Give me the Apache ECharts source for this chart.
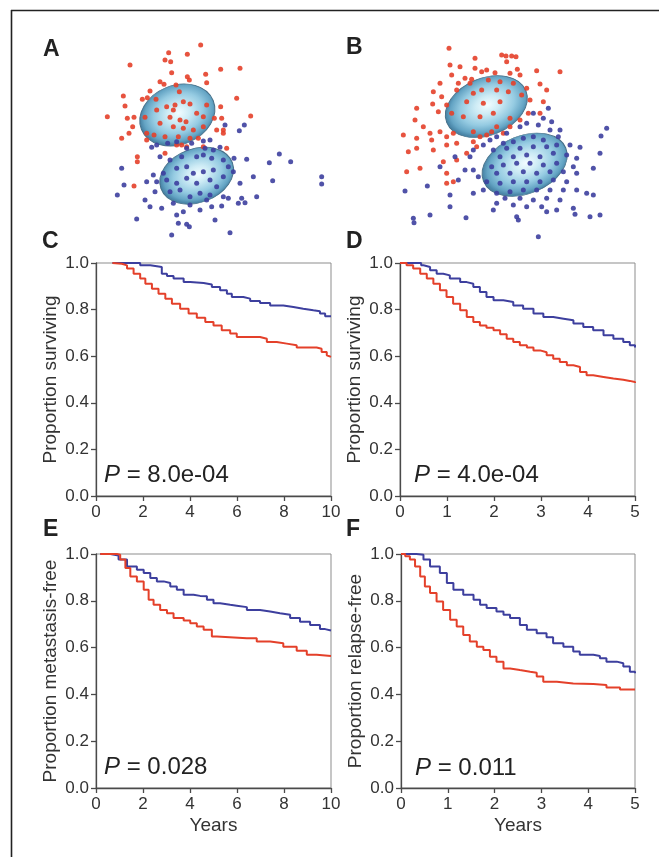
<!DOCTYPE html>
<html>
<head>
<meta charset="utf-8">
<script src="https://cdn.jsdelivr.net/npm/echarts@6/dist/echarts.min.js"></script>
<style>
html,body{margin:0;padding:0;background:#fff;}
#chart{width:659px;height:857px;}
</style>
</head>
<body>
<div id="chart"></div>
<script>
// ---------- Panel A & B: sample projections (arbitrary score units, y downward) ----------
const scatterA_red = [[512,45],[416,68],[472,73],[405,90],[422,95],[300,105],[572,118],[630,115],[425,128],[472,140],[527,133],[390,155],[402,163],[478,150],[530,158],[438,165],[360,183],[448,185],[280,198],[337,208],[352,203],[620,205],[285,228],[378,208],[410,230],[435,225],[460,215],[480,222],[530,225],[572,230],[232,260],[292,265],[312,262],[420,262],[450,270],[468,275],[520,260],[553,265],[575,265],[662,258],[345,262],[308,290],[390,280],[430,290],[460,295],[490,300],[520,290],[560,300],[580,300],[275,325],[297,310],[350,310],[372,315],[405,320],[445,320],[480,325],[505,325],[350,330],[580,310],[440,345],[470,350],[520,350],[590,355],[322,380],[322,395],[405,370],[312,468],[455,345],[430,240],[500,250],[380,240]];
const scatterA_blue = [[585,285],[643,285],[628,302],[540,330],[520,333],[485,340],[440,335],[413,340],[380,345],[365,352],[470,355],[525,355],[550,360],[570,352],[612,385],[650,388],[748,372],[782,395],[718,398],[275,415],[390,380],[420,390],[455,380],[500,380],[520,375],[545,385],[580,390],[595,410],[610,425],[370,435],[400,430],[440,415],[470,410],[490,430],[520,425],[550,420],[580,440],[670,440],[875,440],[875,462],[282,465],[350,455],[380,455],[410,450],[440,460],[470,445],[500,460],[540,450],[560,470],[630,460],[728,452],[262,495],[345,510],[375,485],[420,485],[450,480],[480,500],[510,490],[540,495],[580,500],[595,505],[635,505],[680,500],[395,535],[430,520],[480,525],[510,540],[545,530],[575,528],[625,520],[645,518],[440,555],[320,567],[555,570],[445,580],[470,583],[478,590],[600,608],[425,615],[360,530],[460,545],[530,510]];
const scatterB_red = [[327,55],[485,75],[498,78],[515,78],[528,80],[405,85],[500,95],[330,105],[360,110],[405,115],[425,125],[440,120],[465,128],[510,130],[532,118],[540,135],[590,122],[660,125],[335,135],[375,145],[395,148],[300,160],[355,160],[390,160],[445,150],[480,155],[520,160],[600,162],[280,185],[305,200],[350,180],[400,190],[425,180],[470,180],[505,185],[545,195],[560,175],[620,180],[230,235],[278,222],[320,225],[380,215],[430,220],[480,215],[570,210],[610,215],[225,270],[295,245],[335,250],[370,260],[420,260],[460,250],[510,265],[540,270],[565,250],[600,250],[190,315],[250,290],[270,310],[300,305],[320,320],[340,310],[350,340],[400,305],[440,315],[470,290],[510,290],[230,325],[275,330],[230,355],[205,365],[280,360],[320,345],[400,335],[380,370],[410,350],[350,390],[240,415],[200,425],[310,395],[320,430],[340,455],[320,460],[420,320],[455,305],[490,310]];
const scatterB_blue = [[625,235],[580,250],[610,265],[595,285],[635,275],[560,280],[540,290],[500,310],[470,320],[450,330],[430,345],[400,360],[390,380],[375,420],[630,300],[660,300],[800,295],[783,318],[690,345],[720,352],[680,375],[780,370],[710,385],[760,415],[655,320],[610,330],[580,320],[550,325],[520,335],[490,340],[460,360],[500,355],[540,355],[580,350],[620,350],[650,345],[480,380],[520,380],[560,375],[600,380],[640,370],[455,410],[490,405],[530,400],[570,400],[610,405],[650,400],[700,410],[470,430],[510,430],[550,425],[590,430],[630,425],[670,425],[710,430],[440,455],[480,460],[520,455],[560,455],[600,455],[640,450],[680,455],[430,480],[470,490],[510,485],[550,480],[590,480],[630,480],[670,480],[710,480],[740,490],[495,505],[540,505],[580,510],[620,505],[660,510],[470,520],[460,540],[520,525],[560,530],[605,530],[650,540],[700,535],[760,495],[780,555],[750,560],[705,553],[620,545],[530,560],[535,570],[270,555],[220,565],[222,578],[378,563],[330,530],[330,495],[400,490],[262,468],[195,483],[355,450],[595,620],[300,410],[345,380],[400,420],[415,440]];
// cluster ellipsoids: [centerX, centerY, semiMajor, semiMinor, tiltDeg]
const ellipsesA = [[442,255,116,89,22],[500,437,114,81,20]];
const ellipsesB = [[439,230,128,86,22],[554,404,133,87,22]];

// ---------- Kaplan-Meier curves: [years, proportion] ----------
const C_blue = [[0.7,1],[1.88,0.99],[2.31,0.983],[2.8,0.954],[3.02,0.944],[3.3,0.933],[3.73,0.918],[4.01,0.914],[4.58,0.908],[4.93,0.897],[5.28,0.883],[5.57,0.868],[5.78,0.854],[6.27,0.847],[6.56,0.837],[6.98,0.828],[7.41,0.818],[7.97,0.811],[8.4,0.804],[8.82,0.797],[9.25,0.793],[9.53,0.783],[9.75,0.771],[10,0.771]];
const C_red = [[0.7,1],[0.75,0.997],[1.1,0.99],[1.32,0.976],[1.6,0.954],[1.88,0.933],[2.1,0.911],[2.38,0.89],[2.66,0.868],[2.95,0.847],[3.23,0.825],[3.58,0.804],[3.94,0.783],[4.29,0.765],[4.65,0.747],[5.0,0.732],[5.35,0.711],[5.71,0.697],[5.99,0.682],[6.98,0.675],[7.27,0.661],[7.69,0.654],[8.12,0.647],[8.54,0.637],[9.39,0.632],[9.6,0.618],[9.82,0.604],[9.9,0.597],[10,0.597]];
const D_blue = [[0,1],[0.45,0.99],[0.5,0.983],[0.64,0.969],[0.78,0.954],[0.92,0.947],[1.06,0.933],[1.28,0.918],[1.42,0.911],[1.56,0.897],[1.7,0.876],[1.84,0.854],[1.99,0.84],[2.2,0.833],[2.41,0.818],[2.62,0.804],[2.84,0.783],[3.05,0.768],[3.26,0.761],[3.48,0.754],[3.69,0.74],[3.9,0.725],[4.11,0.711],[4.33,0.69],[4.54,0.675],[4.75,0.661],[4.89,0.647],[5,0.637]];
const D_red = [[0,1],[0.14,0.99],[0.28,0.976],[0.43,0.954],[0.57,0.933],[0.71,0.911],[0.85,0.883],[0.99,0.854],[1.13,0.825],[1.28,0.797],[1.42,0.768],[1.56,0.747],[1.7,0.732],[1.84,0.722],[1.99,0.711],[2.13,0.694],[2.27,0.675],[2.41,0.661],[2.55,0.647],[2.7,0.637],[2.84,0.625],[2.98,0.617],[3.12,0.604],[3.26,0.589],[3.4,0.575],[3.55,0.561],[3.69,0.554],[3.83,0.532],[3.97,0.518],[4.11,0.511],[4.33,0.504],[4.54,0.499],[4.75,0.494],[4.89,0.489],[5,0.485]];
const E_blue = [[0.18,1],[0.61,0.993],[0.96,0.976],[1.32,0.947],[1.74,0.933],[2.03,0.919],[2.31,0.897],[2.59,0.883],[2.88,0.876],[3.16,0.861],[3.44,0.847],[3.73,0.826],[4.15,0.821],[4.43,0.819],[4.72,0.804],[5.0,0.79],[5.28,0.783],[5.71,0.779],[5.99,0.773],[6.42,0.761],[6.98,0.754],[7.41,0.747],[7.83,0.74],[8.26,0.726],[8.68,0.711],[9.11,0.697],[9.53,0.679],[9.75,0.673],[10,0.673]];
const E_red = [[0.18,1],[0.89,0.997],[1.03,0.976],[1.25,0.94],[1.46,0.904],[1.74,0.883],[2.03,0.847],[2.24,0.804],[2.45,0.783],[2.73,0.761],[3.02,0.747],[3.3,0.726],[3.73,0.716],[4.01,0.704],[4.29,0.69],[4.58,0.676],[4.93,0.647],[5.14,0.64],[6.42,0.64],[6.84,0.626],[7.41,0.619],[7.97,0.604],[8.54,0.587],[8.97,0.569],[9.39,0.564],[10,0.564]];
const F_blue = [[0,1],[0.33,0.997],[0.48,0.976],[0.62,0.947],[0.83,0.919],[0.98,0.876],[1.12,0.847],[1.33,0.826],[1.55,0.804],[1.69,0.783],[1.83,0.769],[2.04,0.754],[2.19,0.74],[2.33,0.726],[2.54,0.697],[2.69,0.676],[2.9,0.661],[3.11,0.644],[3.25,0.619],[3.47,0.604],[3.68,0.583],[3.82,0.569],[4.11,0.564],[4.25,0.554],[4.39,0.54],[4.61,0.533],[4.75,0.519],[4.89,0.497],[5,0.49]];
const F_red = [[0,1],[0.09,0.99],[0.19,0.976],[0.3,0.947],[0.41,0.904],[0.51,0.861],[0.62,0.833],[0.76,0.797],[0.9,0.761],[1.05,0.719],[1.19,0.69],[1.33,0.654],[1.47,0.626],[1.62,0.604],[1.76,0.59],[1.9,0.561],[2.04,0.54],[2.19,0.511],[2.33,0.504],[2.54,0.497],[2.76,0.493],[2.9,0.476],[3.04,0.454],[3.33,0.447],[3.68,0.444],[4.11,0.44],[4.39,0.43],[4.68,0.421],[5,0.421]];

const panelLetters = ['A','B','C','D','E','F'];
const yNames = ['Proportion surviving','Proportion surviving','Proportion metastasis-free','Proportion relapse-free'];
const pValues = ['8.0e-04','4.0e-04','0.028','0.011'];

// ---------- rendering ----------
const FONT = '"Liberation Sans", Arial, Helvetica, sans-serif';
const RED = '#e4402a', BLUE = '#3d3f9e';
const AXIS = '#4a4a4a', TXT = '#333';

const chart = echarts.init(document.getElementById('chart'), null, {renderer:'canvas'});

const grids = [
  {left:80, top:30, width:270, height:220},   // A
  {left:390, top:30, width:250, height:220},  // B
  {left:96, top:263, width:235, height:233},  // C
  {left:400, top:263, width:235, height:233}, // D
  {left:96, top:554, width:235, height:234},  // E
  {left:401, top:554, width:234, height:234}  // F
];
grids.forEach((g,i)=>{ if(i>=2){ g.show = true; g.borderColor = '#8d8d8d'; g.borderWidth = 1; } });

const xAxes = [
  {gridIndex:0, type:'value', min:150, max:960, show:false},
  {gridIndex:1, type:'value', min:150, max:900, show:false}
];
const yAxes = [
  {gridIndex:0, type:'value', min:0, max:660, inverse:true, show:false},
  {gridIndex:1, type:'value', min:0, max:660, inverse:true, show:false}
];
const xMax = [10,5,10,5];
for(let k=0;k<4;k++){
  xAxes.push({
    gridIndex:k+2, type:'value', min:0, max:xMax[k], interval: xMax[k]===10?2:1,
    name: k>=2 ? 'Years' : '', nameLocation:'middle', nameGap:28,
    nameTextStyle:{fontFamily:FONT, fontSize:19, color:TXT},
    axisLine:{show:true, onZero:false, lineStyle:{color:AXIS, width:1.3}},
    axisTick:{show:true, length:5, lineStyle:{color:AXIS, width:1.3}},
    axisLabel:{fontFamily:FONT, fontSize:17, color:TXT, margin:8},
    splitLine:{show:false}
  });
  yAxes.push({
    gridIndex:k+2, type:'value', min:0, max:1, interval:0.2,
    name: yNames[k], nameLocation:'middle', nameGap:36,
    nameTextStyle:{fontFamily:FONT, fontSize:19, color:TXT},
    axisLine:{show:true, onZero:false, lineStyle:{color:AXIS, width:1.3}},
    axisTick:{show:true, length:5, lineStyle:{color:AXIS, width:1.3}},
    axisLabel:{fontFamily:FONT, fontSize:17, color:TXT, margin:7, formatter:v=>v.toFixed(1)},
    splitLine:{show:false}
  });
}

function renderEllipse(params, api){
  const c = api.coord([api.value(0), api.value(1)]);
  const s = api.size([1,1]);
  const a = api.value(2)*s[0], b = api.value(3)*s[1];
  const rot = api.value(4)*Math.PI/180;
  return {
    type:'group', x:c[0], y:c[1], rotation:rot,
    children:[{
      type:'circle', shape:{cx:0, cy:0, r:a}, scaleY:b/a,
      style:{
        fill:{type:'radial', x:0.52, y:0.48, r:0.5, colorStops:[
          {offset:0, color:'#f2fcff'},{offset:0.3, color:'#cdebf5'},
          {offset:0.65, color:'#95cbe2'},{offset:0.9, color:'#64a4c4'},{offset:1, color:'#4a86a8'}]},
        stroke:'#456f88', lineWidth:1
      }
    }]
  };
}

const series = [];
[[ellipsesA, scatterA_red, scatterA_blue],[ellipsesB, scatterB_red, scatterB_blue]].forEach((p,i)=>{
  series.push({type:'custom', xAxisIndex:i, yAxisIndex:i, renderItem:renderEllipse, data:p[0], clip:false, z:1, silent:true});
  series.push({type:'scatter', xAxisIndex:i, yAxisIndex:i, data:p[1], symbolSize:5, itemStyle:{color:RED, opacity:0.9}, z:3, silent:true});
  series.push({type:'scatter', xAxisIndex:i, yAxisIndex:i, data:p[2], symbolSize:5, itemStyle:{color:BLUE, opacity:0.9}, z:3, silent:true});
});
[[C_blue,C_red],[D_blue,D_red],[E_blue,E_red],[F_blue,F_red]].forEach((p,k)=>{
  series.push({type:'line', step:'end', xAxisIndex:k+2, yAxisIndex:k+2, data:p[0], showSymbol:false, lineStyle:{color:BLUE, width:2}, z:4, silent:true});
  series.push({type:'line', step:'end', xAxisIndex:k+2, yAxisIndex:k+2, data:p[1], showSymbol:false, lineStyle:{color:RED, width:2}, z:5, silent:true});
});

const letterPos = [[43,61],[346,59],[42,253],[346,253],[43,541],[346,541]];
const pPos = [[104,482],[414,482],[104,774],[415,775]];
const graphic = [
  {type:'line', shape:{x1:11, y1:10.5, x2:659, y2:10.5}, style:{stroke:'#222', lineWidth:1.6}},
  {type:'line', shape:{x1:11.5, y1:10, x2:11.5, y2:857}, style:{stroke:'#222', lineWidth:1.6}}
];
panelLetters.forEach((L,i)=>{
  graphic.push({type:'text', x:letterPos[i][0], y:letterPos[i][1],
    style:{text:L, fontFamily:FONT, fontSize:23, fontWeight:'bold', fill:'#222', verticalAlign:'bottom', align:'left'}});
});
pValues.forEach((v,k)=>{
  graphic.push({type:'text', x:pPos[k][0], y:pPos[k][1]+5,
    style:{text:'{i|P} = '+v, fontFamily:FONT, fontSize:24, fill:'#222', verticalAlign:'bottom', align:'left',
      rich:{i:{fontStyle:'italic', fontFamily:FONT, fontSize:24, fill:'#222'}}}});
});

chart.setOption({
  animation:false,
  backgroundColor:'#fff',
  textStyle:{fontFamily:FONT},
  grid:grids, xAxis:xAxes, yAxis:yAxes, series:series, graphic:graphic
});
</script>
</body>
</html>
